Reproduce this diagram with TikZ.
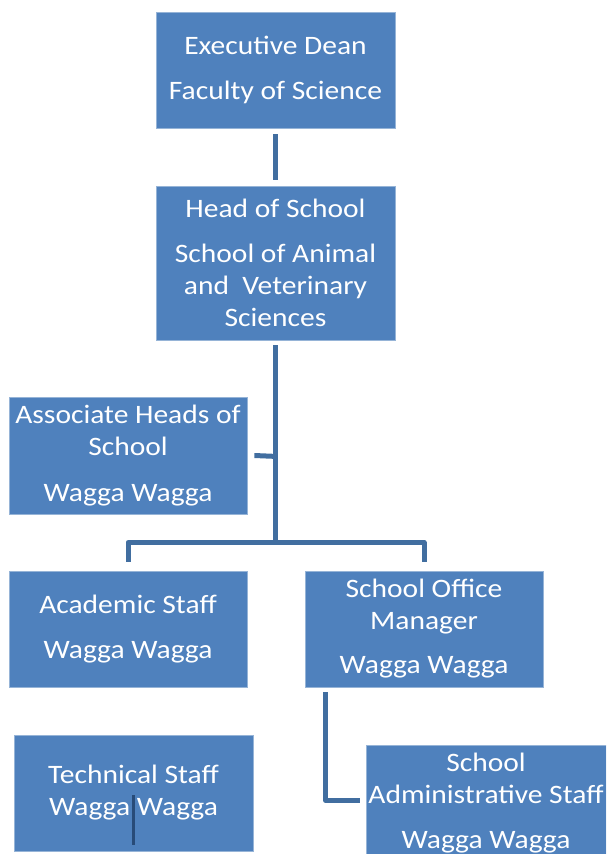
\documentclass[tikz,border=0pt]{standalone}
\usepackage{fontspec}
\setmainfont{Carlito}[FakeStretch=1.11]
\usetikzlibrary{calc}
\definecolor{boxblue}{RGB}{79,129,189}
\definecolor{boxedge}{RGB}{150,180,215}
\definecolor{linkblue}{RGB}{65,110,160}
\definecolor{strayblue}{RGB}{40,75,120}
\begin{document}
\begin{tikzpicture}[x=1pt,y=-1pt,
  orgbox/.style={rectangle, fill=boxblue, draw=boxedge, line width=0.8pt, text=white,
    align=center, inner sep=0pt, font=\fontsize{26.6}{32}\selectfont},
  link/.style={draw=linkblue, line width=5pt, line join=round},
  stray/.style={draw=strayblue, line width=3pt}]
\useasboundingbox (0,0) rectangle (606,854);
\begin{scope}
\clip (0,0) rectangle (606,854);
\node[orgbox, minimum width=239pt, minimum height=116pt] (ed) at (275.5,70)
  {Executive Dean\\[13pt]Faculty of Science};
\node[orgbox, minimum width=239pt, minimum height=154pt] (hos) at (275.5,263)
  {Head of School\\[13pt]School of Animal\\and\ \ Veterinary\\Sciences};
\node[orgbox, minimum width=238pt, minimum height=117pt] (ahs) at (128,455.5)
  {Associate Heads of\\School\\[14pt]Wagga Wagga};
\node[orgbox, minimum width=238pt, minimum height=116pt] (acad) at (128,629)
  {Academic Staff\\[13pt]Wagga Wagga};
\node[orgbox, minimum width=238pt, minimum height=116pt] (som) at (424,629)
  {School Office\\Manager\\[12pt]Wagga Wagga};
\node[orgbox, minimum width=239pt, minimum height=116pt] (tech) at (133.5,793)
  {Technical Staff\\Wagga Wagga};
\node[orgbox, minimum width=240pt, minimum height=117pt] (admin) at (486,803.5)
  {School\\Administrative Staff\\[13pt]Wagga Wagga};

\draw[link, shorten <=6pt, shorten >=6pt] (ed.south) -- (hos.north);
\coordinate (bus) at ($(hos.south)+(0,202)$);
\draw[link, shorten <=5pt] (hos.south) -- (bus);
\draw[link] ($(ahs.east)+(7,0)$) -- ($(hos.south)+(0,116)$);
\draw[link, shorten >=9pt] (bus) -| (acad.north);
\draw[link, shorten >=9pt] (bus) -| (som.north);
\coordinate (smtop) at ($(som.south west)+(21,5)$);
\draw[link, shorten >=6pt] (smtop) |- ($(admin.west)+(0,-3)$);
\draw[stray] ($(tech.center)+(0,2)$) -- ($(tech.center)+(0,52)$);
\end{scope}
\end{tikzpicture}
\end{document}
